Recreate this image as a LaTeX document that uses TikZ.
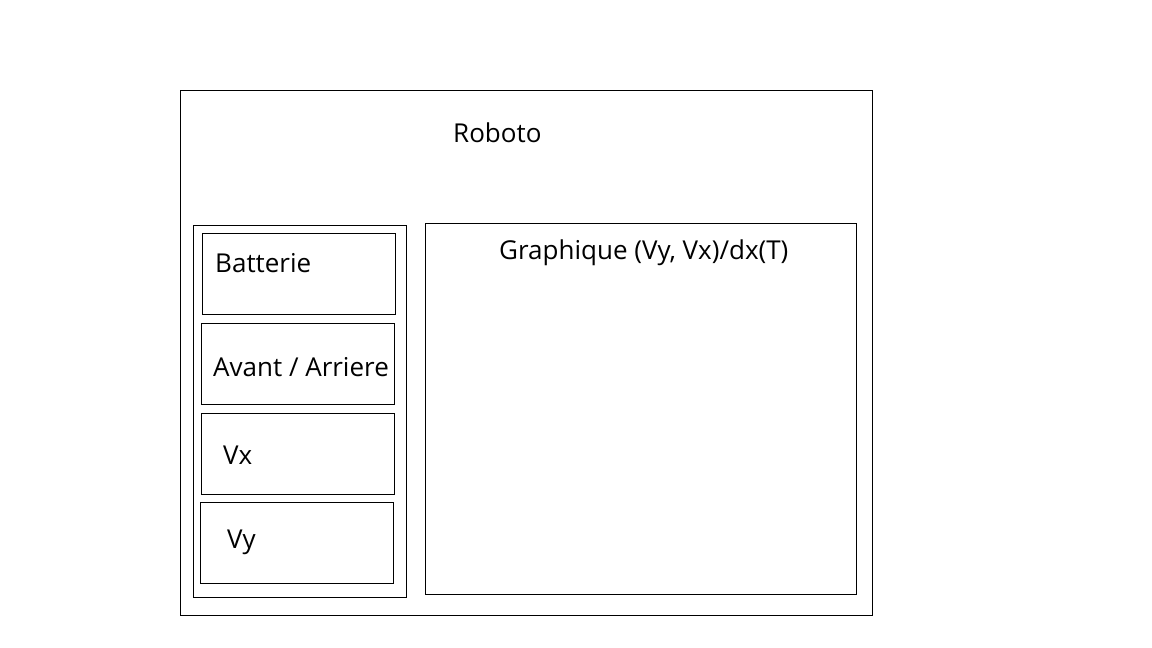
\documentclass[tikz,border=0pt]{standalone}
\usepackage{fontspec}
\setmainfont{Open Sans}
\begin{document}
\begin{tikzpicture}[x=1pt,y=-1pt,
  box/.style={draw=black,line width=1pt,anchor=north west,inner sep=0pt},
  lbl/.style={anchor=base west,inner sep=0pt,font=\fontsize{26}{30}\selectfont}]
\useasboundingbox[fill=white] (0,0) rectangle (1152,648);
\node[box,minimum width=692pt,minimum height=525pt] (outer) at (180,90) {};
\node[box,minimum width=213pt,minimum height=372pt] (left) at (193,225) {};
\node[box,minimum width=193pt,minimum height=81pt] (bat) at (202,233) {};
\node[box,minimum width=193pt,minimum height=81pt] (av) at (201,323) {};
\node[box,minimum width=193pt,minimum height=81pt] (vx) at (201,413) {};
\node[box,minimum width=193pt,minimum height=81pt] (vy) at (200,502) {};
\node[box,minimum width=431pt,minimum height=371pt] (graph) at (425,223) {};
\node[lbl] (troboto) at (453,142) {Roboto};
\node[lbl] (tbat) at (215,272) {Batterie};
\node[lbl] (tav) at (213,376) {Avant / Arriere};
\node[lbl] (tvx) at (223,464) {Vx};
\node[lbl] (tvy) at (227,548.5) {Vy};
\node[lbl] (tgraph) at (499,259) {Graphique (Vy, Vx)/dx(T)};
\end{tikzpicture}
\end{document}
